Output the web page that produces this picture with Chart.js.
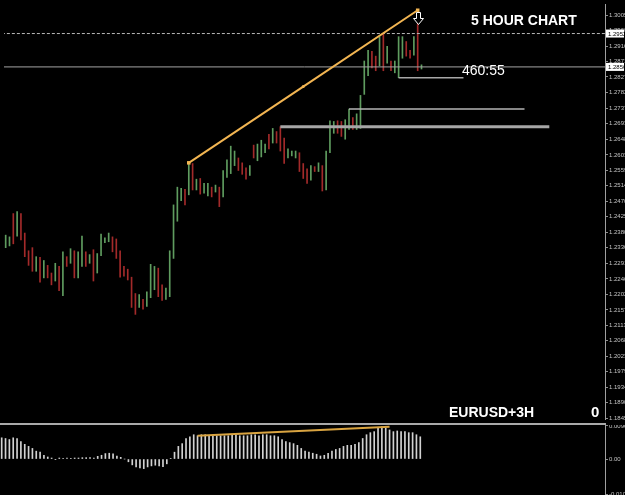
<!DOCTYPE html>
<html>
<head>
<meta charset="utf-8">
<script src="https://cdn.jsdelivr.net/npm/chart.js@4.4.0/dist/chart.umd.min.js"></script>
<style>
  html, body { margin: 0; padding: 0; background: #000; }
  #wrap { position: relative; width: 625px; height: 495px; overflow: hidden; background: #000; }
  #priceChart { position: absolute; left: 0; top: 0; }
  #macdChart { position: absolute; left: 0; top: 425px; }
  #sep { position: absolute; left: 0; top: 423px; width: 606px; height: 2px; background: #a9a9a9; }
  .lbl { position: absolute; color: #fff; font-family: 'Liberation Sans', Arial, sans-serif; white-space: nowrap; line-height: 1; }
  #title { left: 471px; top: 13px; font-size: 14px; font-weight: bold; }
  #symbol { left: 449px; top: 405px; font-size: 14px; font-weight: bold; }
  #zero { left: 591px; top: 404px; font-size: 15px; font-weight: bold; }
  #timer { left: 462px; top: 63px; font-size: 14px; }
</style>
</head>
<body>
<div id="wrap">
  <canvas id="priceChart" width="625" height="423"></canvas>
  <div id="sep"></div>
  <canvas id="macdChart" width="625" height="70"></canvas>
  <div class="lbl" id="title">5 HOUR CHART</div>
  <div class="lbl" id="timer">460:55</div>
  <div class="lbl" id="symbol">EURUSD+3H</div>
  <div class="lbl" id="zero">0</div>
</div>
<script>
// EURUSD 5 hour bars (bar number = position from the left)
const highs = [
  1.2372, 1.2367, 1.2434, 1.2440, 1.2434, 1.2378, 1.2327, 1.2336, 1.2310, 1.2308,
  1.2299, 1.2285, 1.2263, 1.2291, 1.2282, 1.2324, 1.2310, 1.2333, 1.2327, 1.2324,
  1.2369, 1.2324, 1.2316, 1.2330, 1.2319, 1.2375, 1.2364, 1.2378, 1.2367, 1.2361,
  1.2327, 1.2282, 1.2274, 1.2251, 1.2204, 1.2201, 1.2187, 1.2209, 1.2288, 1.2282,
  1.2277, 1.2229, 1.2220, 1.2327, 1.2459, 1.2510, 1.2507, 1.2504, 1.2580, 1.2578,
  1.2533, 1.2535, 1.2521, 1.2521, 1.2510, 1.2516, 1.2510, 1.2558, 1.2589, 1.2628,
  1.2614, 1.2594, 1.2580, 1.2566, 1.2572, 1.2631, 1.2634, 1.2645, 1.2634, 1.2662,
  1.2679, 1.2670, 1.2684, 1.2651, 1.2620, 1.2614, 1.2614, 1.2609, 1.2578, 1.2563,
  1.2572, 1.2569, 1.2580, 1.2572, 1.2614, 1.2701, 1.2699, 1.2701, 1.2699, 1.2704,
  1.2735, 1.2710, 1.2721, 1.2774, 1.2873, 1.2904, 1.2901, 1.2887, 1.2943, 1.2952,
  1.2915, 1.2873, 1.2873, 1.2943, 1.2943, 1.2929, 1.2904, 1.2943, 1.3019, 1.2862
];
const lows = [
  1.2336, 1.2341, 1.2347, 1.2369, 1.2358, 1.2310, 1.2285, 1.2268, 1.2268, 1.2237,
  1.2249, 1.2249, 1.2229, 1.2240, 1.2212, 1.2198, 1.2282, 1.2291, 1.2249, 1.2249,
  1.2282, 1.2282, 1.2291, 1.2240, 1.2263, 1.2313, 1.2350, 1.2353, 1.2324, 1.2305,
  1.2251, 1.2254, 1.2243, 1.2164, 1.2144, 1.2164, 1.2159, 1.2167, 1.2192, 1.2215,
  1.2195, 1.2184, 1.2187, 1.2195, 1.2305, 1.2412, 1.2471, 1.2459, 1.2488, 1.2502,
  1.2502, 1.2490, 1.2493, 1.2485, 1.2482, 1.2496, 1.2454, 1.2482, 1.2538, 1.2549,
  1.2572, 1.2558, 1.2547, 1.2533, 1.2544, 1.2594, 1.2586, 1.2597, 1.2609, 1.2620,
  1.2637, 1.2637, 1.2614, 1.2578, 1.2594, 1.2600, 1.2594, 1.2555, 1.2535, 1.2521,
  1.2530, 1.2555, 1.2555, 1.2499, 1.2502, 1.2609, 1.2665, 1.2665, 1.2656, 1.2648,
  1.2676, 1.2676, 1.2676, 1.2679, 1.2777, 1.2831, 1.2853, 1.2845, 1.2859, 1.2845,
  1.2867, 1.2845, 1.2839, 1.2825, 1.2881, 1.2887, 1.2881, 1.2890, 1.2845, 1.2850
];
// 1 = up bar (green), -1 = down bar (red)
const barDir = [
   1,  1, -1,  1, -1, -1, -1, -1,  1, -1,
   1, -1, -1,  1, -1,  1, -1,  1, -1,  1,
   1, -1,  1, -1,  1,  1,  1,  1, -1, -1,
  -1, -1, -1, -1, -1,  1, -1,  1,  1,  1,
  -1, -1,  1,  1,  1,  1,  1, -1,  1, -1,
   1, -1,  1,  1, -1,  1, -1,  1,  1,  1,
   1, -1, -1, -1,  1, -1,  1,  1,  1, -1,
   1, -1, -1, -1,  1,  1,  1, -1, -1, -1,
   1, -1,  1, -1,  1,  1,  1, -1, -1,  1,
   1, -1,  1,  1,  1,  1, -1, -1,  1, -1,
   1, -1,  1,  1,  1, -1, -1,  1, -1,  1
];
// histogram in the lower window
const macdHist = [
  0.0062, 0.0060, 0.0057, 0.0062, 0.0060, 0.0051, 0.0043, 0.0037, 0.0031, 0.0023,
  0.0020, 0.0011, 0.0006, 0.0003, -0.0001, 0.0003, 0.0001, 0.0003, 0.0001, 0.0003,
  0.0003, 0.0004, 0.0004, 0.0004, 0.0003, 0.0008, 0.0011, 0.0016, 0.0017, 0.0015,
  0.0009, 0.0005, 0.0000, -0.0008, -0.0017, -0.0023, -0.0026, -0.0028, -0.0023, -0.0020,
  -0.0018, -0.0020, -0.0022, -0.0014, 0.0001, 0.0020, 0.0037, 0.0045, 0.0060, 0.0065,
  0.0071, 0.0068, 0.0071, 0.0071, 0.0068, 0.0068, 0.0068, 0.0068, 0.0068, 0.0068,
  0.0071, 0.0071, 0.0068, 0.0068, 0.0068, 0.0071, 0.0071, 0.0068, 0.0071, 0.0071,
  0.0068, 0.0068, 0.0065, 0.0057, 0.0051, 0.0048, 0.0045, 0.0040, 0.0031, 0.0023,
  0.0020, 0.0017, 0.0014, 0.0009, 0.0011, 0.0017, 0.0023, 0.0028, 0.0031, 0.0037,
  0.0040, 0.0040, 0.0043, 0.0048, 0.0060, 0.0071, 0.0077, 0.0080, 0.0091, 0.0094,
  0.0091, 0.0085, 0.0080, 0.0082, 0.0080, 0.0080, 0.0077, 0.0077, 0.0071, 0.0065
];

const priceTicks = [
  1.3005, 1.2960, 1.2916, 1.2871, 1.2827, 1.2782, 1.2737, 1.2693, 1.2648,
  1.2603, 1.2559, 1.2514, 1.2470, 1.2425, 1.2380, 1.2336, 1.2291, 1.2246,
  1.2202, 1.2157, 1.2113, 1.2068, 1.2023, 1.1979, 1.1934, 1.1890, 1.1845
];
const macdTicks = [0.00967, 0, -0.0103];
const macdTickLabels = ['0.00967', '0.00', '-0.01030'];

// trend line on price: from the high of bar 48 to the high of bar 108
const trendBars = [48, 108];
// sell arrow under the high of this bar
const arrowBar = 108;
// trend line on the histogram: [bar, value]
const macdTrend = [[51, 0.0068], [101, 0.0094]];

// horizontal levels: price, first bar, last bar
const levelPrices = [1.2952, 1.2856, 1.2735, 1.2684, 1.2825];
const levelFrom   = [-1, -1, 90, 72, 103];
const levelTo     = [158, 158, 136, 142.5, 120];
const levelColors = ['#b8b8b8', '#a4a4a4', '#b4b4b4', '#a6a6a6', '#a8a8a8'];
const levelWidths = [1, 1, 1.5, 3, 1.5];
const levelDash   = [[3, 2], [], [], [], []];
// the two price boxes on the axis
const axisBoxPrices = [1.2952, 1.2856];

const upColor = '#5f9c5f';
const downColor = '#a32a2a';
const xMin = -0.44, xMax = 157.1;

// price bars as floating bars low..high
const barData = highs.map((h, i) => ({ x: i, y: [lows[i], h] }));
const barColors = barDir.map(d => d > 0 ? upColor : downColor);

const t0 = trendBars[0], t1 = trendBars[1];
const trendData = [
  { x: t0, y: highs[t0] },
  { x: (t0 + t1) / 2, y: (highs[t0] + highs[t1]) / 2 },
  { x: t1, y: highs[t1] }
];

const levelSets = levelPrices.map((p, i) => ({
  type: 'line',
  data: [{ x: levelFrom[i], y: p }, { x: levelTo[i], y: p }],
  borderColor: levelColors[i],
  borderWidth: levelWidths[i],
  borderDash: levelDash[i],
  pointRadius: 0,
  order: 1
}));

// price boxes on the axis + the hollow down arrow
var priceExtras = {
  id: 'priceExtras',
  afterDraw: function (chart) {
    var ctx = chart.ctx;
    var x = chart.scales.x;
    var y = chart.scales.y;
    ctx.save();
    ctx.font = '6px "Liberation Sans", Arial, sans-serif';
    ctx.textBaseline = 'middle';
    axisBoxPrices.forEach(function (p) {
      var py = y.getPixelForValue(p);
      ctx.fillStyle = '#ffffff';
      ctx.fillRect(606, py - 4, 18, 8);
      ctx.fillStyle = '#000000';
      ctx.fillText(p.toFixed(4), 608, py + 0.5);
    });

    var ax = Math.round(x.getPixelForValue(arrowBar)) + 0.5;
    var ay = Math.round(y.getPixelForValue(highs[arrowBar])) + 2.5;
    ctx.beginPath();
    ctx.moveTo(ax - 2, ay);
    ctx.lineTo(ax + 2, ay);
    ctx.lineTo(ax + 2, ay + 6);
    ctx.lineTo(ax + 5, ay + 6);
    ctx.lineTo(ax, ay + 12);
    ctx.lineTo(ax - 5, ay + 6);
    ctx.lineTo(ax - 2, ay + 6);
    ctx.closePath();
    ctx.fillStyle = '#000000';
    ctx.fill();
    ctx.strokeStyle = '#ffffff';
    ctx.lineWidth = 1;
    ctx.stroke();
    ctx.restore();
  }
};

function rightAxis(min, max, tickValues, labelFn) {
  return {
    position: 'right',
    min: min,
    max: max,
    afterBuildTicks: function (s) { s.ticks = tickValues.map(v => ({ value: v })); },
    afterFit: function (s) { s.width = 20; s.paddingTop = 0; s.paddingBottom = 0; },
    ticks: {
      autoSkip: false,
      padding: 1,
      color: '#c4c4c4',
      font: { family: 'Liberation Sans', size: 6 },
      callback: labelFn
    },
    grid: { drawOnChartArea: false, drawTicks: true, tickLength: 3, color: '#8c8c8c' },
    border: { display: true, color: '#a0a0a0', width: 1 }
  };
}

var priceChart = new Chart(document.getElementById('priceChart'), {
  type: 'bar',
  data: {
    datasets: [
      {
        type: 'line',
        data: trendData,
        borderColor: '#f2b552',
        backgroundColor: '#f2b552',
        borderWidth: 2,
        pointStyle: ['rect', 'circle', 'rect'],
        pointRadius: [2.5, 1.5, 2.5],
        pointBorderWidth: 0,
        order: 0
      },
      ...levelSets,
      {
        data: barData,
        backgroundColor: barColors,
        barThickness: 1,
        borderWidth: 0,
        order: 2
      }
    ]
  },
  options: {
    responsive: false,
    animation: false,
    events: [],
    layout: { padding: 0 },
    plugins: { legend: { display: false }, tooltip: { enabled: false } },
    scales: {
      x: { type: 'linear', min: xMin, max: xMax, offset: false, display: false },
      y: rightAxis(1.1843, 1.3037, priceTicks, v => v.toFixed(4))
    }
  },
  plugins: [priceExtras]
});

var macdChart = new Chart(document.getElementById('macdChart'), {
  type: 'bar',
  data: {
    datasets: [
      {
        type: 'line',
        data: macdTrend.map(p => ({ x: p[0], y: p[1] })),
        borderColor: '#d9a441',
        borderWidth: 2,
        pointRadius: 0,
        order: 0
      },
      {
        data: macdHist.map((v, i) => ({ x: i, y: v })),
        backgroundColor: '#d2d2d2',
        barThickness: 1,
        borderWidth: 0,
        order: 1
      }
    ]
  },
  options: {
    responsive: false,
    animation: false,
    events: [],
    layout: { padding: 0 },
    plugins: { legend: { display: false }, tooltip: { enabled: false } },
    scales: {
      x: { type: 'linear', min: xMin, max: xMax, offset: false, display: false },
      y: rightAxis(-0.0105, 0.00994, macdTicks, (v, i) => macdTickLabels[i])
    }
  }
});
</script>
</body>
</html>
